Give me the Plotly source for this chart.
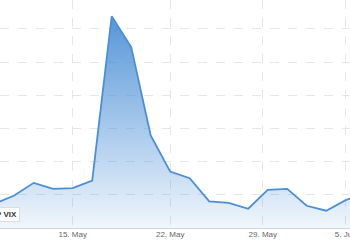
import numpy as np
import pandas as pd
import plotly.graph_objects as go

# Data
dates = ["2017-05-09", "2017-05-10", "2017-05-11", "2017-05-12", "2017-05-15",
         "2017-05-16", "2017-05-17", "2017-05-18", "2017-05-19", "2017-05-22",
         "2017-05-23", "2017-05-24", "2017-05-25", "2017-05-26", "2017-05-30",
         "2017-05-31", "2017-06-01", "2017-06-02", "2017-06-05", "2017-06-06"]
vix = [9.73, 9.98, 10.36, 10.18, 10.20,
       10.43, 15.38, 14.45, 11.79, 10.70,
       10.50, 9.80, 9.76, 9.58, 10.15,
       10.18, 9.67, 9.52, 9.84, 10.05]
tick_dates = ["2017-05-15", "2017-05-22", "2017-05-29", "2017-06-05"]
tick_labels = ["15. May", "22. May", "29. May", "5. Jun"]
series_name = "S&P VIX"

# Ordinal (trading-day) axis: each trading day is one unit
ts = pd.to_datetime(dates).astype("int64").to_numpy().astype(float)
ordinal = np.arange(len(dates), dtype=float)
tick_ts = pd.to_datetime(tick_dates).astype("int64").to_numpy().astype(float)
tick_pos = np.interp(tick_ts, ts, ordinal)

line_color = "#4a8fd6"

fig = go.Figure()
fig.add_trace(go.Scatter(
    x=ordinal, y=vix, mode="lines", name=series_name,
    line=dict(color=line_color, width=1.8),
    fill="tozeroy",
    fillgradient=dict(type="vertical", start=9, stop=15.87,
                      colorscale=[[0, "rgba(74,143,214,0.08)"],
                                  [1, "rgba(74,143,214,1)"]]),
    hoverinfo="skip",
))

fig.update_layout(
    width=350, height=250,
    margin=dict(l=0, r=0, t=0, b=22, autoexpand=False),
    paper_bgcolor="white", plot_bgcolor="white",
    showlegend=False,
    font=dict(family="Liberation Sans, Arial, sans-serif", size=8, color="#666666"),
    xaxis=dict(
        range=[0.272, 18.22],
        tickmode="array", tickvals=tick_pos, ticktext=tick_labels,
        showgrid=True, gridcolor="#e6e6e6", griddash="dash", gridwidth=1,
        showline=True, linecolor="#ccd6eb", linewidth=1,
        ticks="", zeroline=False, automargin=False,
        tickfont=dict(size=8, color="#666666"),
        ticklabelstandoff=-2,
        ticklabeloverflow="allow",
    ),
    yaxis=dict(
        range=[9, 15.87], automargin=False,
        tickmode="array", tickvals=[10, 11, 12, 13, 14, 15],
        showgrid=True, gridcolor="#e6e6e6", griddash="dash", gridwidth=1,
        showticklabels=False, zeroline=False, ticks="",
    ),
    annotations=[dict(
        text="<b>" + series_name + "</b>",
        xref="paper", yref="paper", x=20 / 350, y=1 - 214.5 / 228,
        xanchor="right", yanchor="middle", showarrow=False,
        font=dict(size=8, color="#333333"),
        bgcolor="white", bordercolor="#dddddd", borderwidth=1, borderpad=2,
    )],
)

fig.write_html("out.html")
